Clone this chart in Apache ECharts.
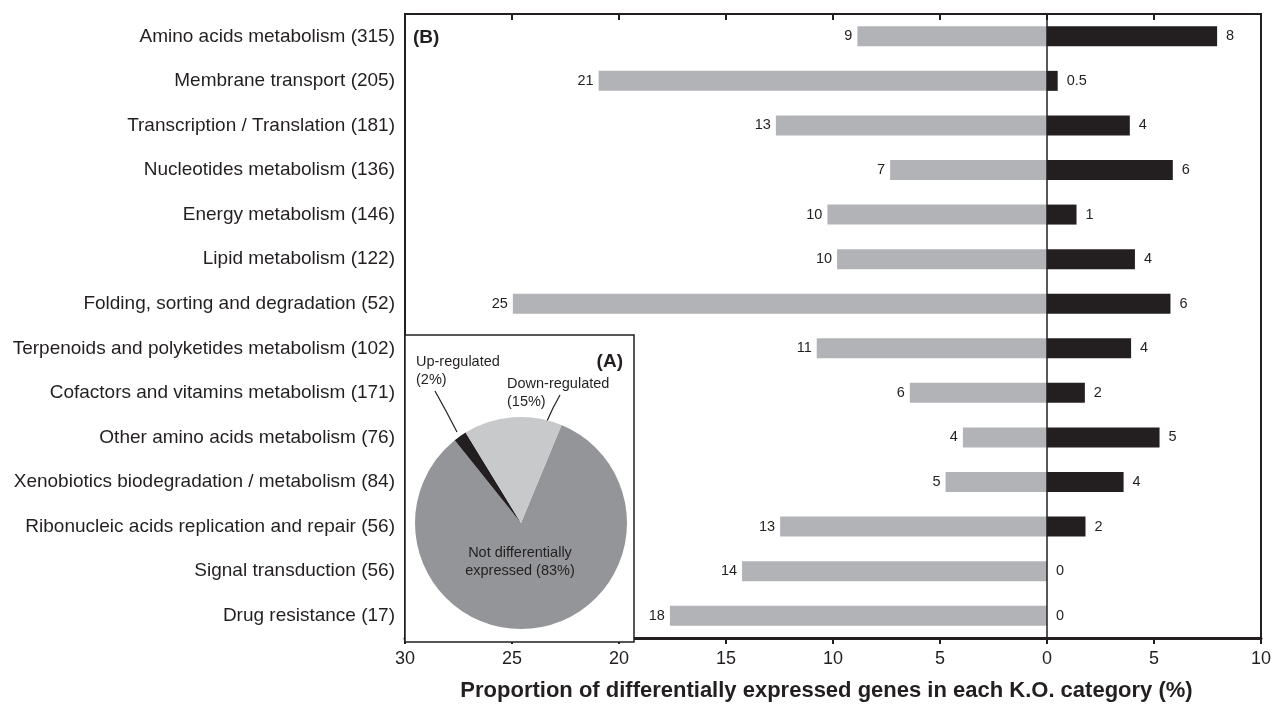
<!DOCTYPE html>
<html><head><meta charset="utf-8">
<script src="https://cdn.jsdelivr.net/npm/echarts@6/dist/echarts.min.js"></script>
<style>html,body{margin:0;padding:0;background:#fff}#c{width:1274px;height:707px}</style>
</head><body><div id="c"></div>
<script>
const categories = [
  'Amino acids metabolism (315)',
  'Membrane transport (205)',
  'Transcription / Translation (181)',
  'Nucleotides metabolism (136)',
  'Energy metabolism (146)',
  'Lipid metabolism (122)',
  'Folding, sorting and degradation (52)',
  'Terpenoids and polyketides metabolism (102)',
  'Cofactors and vitamins metabolism (171)',
  'Other amino acids metabolism (76)',
  'Xenobiotics biodegradation / metabolism (84)',
  'Ribonucleic acids replication and repair (56)',
  'Signal transduction (56)',
  'Drug resistance (17)'
];
// Down-regulated proportion (%), drawn to the left of zero
const downValues = [8.86, 20.95, 12.67, 7.33, 10.26, 9.81, 24.96, 10.76, 6.41, 3.93, 4.74, 12.47, 14.25, 17.62];
const downLabels = ['9', '21', '13', '7', '10', '10', '25', '11', '6', '4', '5', '13', '14', '18'];
// Up-regulated proportion (%), drawn to the right of zero
const upValues = [7.95, 0.5, 3.87, 5.88, 1.38, 4.11, 5.77, 3.93, 1.77, 5.26, 3.58, 1.8, 0, 0];
const upLabels = ['8', '0.5', '4', '6', '1', '4', '6', '4', '2', '5', '4', '2', '0', '0'];
// Inset pie (A)
const pieNames = ['Not differentially\nexpressed (83%)', 'Up-regulated\n(2%)', 'Down-regulated\n(15%)'];
const pieValues = [83, 2, 15];

const INK = '#231f20';
const FONT = '"Liberation Sans", Arial, sans-serif';

const chart = echarts.init(document.getElementById('c'), null, {renderer: 'canvas'});
const pieColors = ['#939598', INK, '#c8c9cb'];

chart.setOption({
  animation: false,
  backgroundColor: '#fff',
  textStyle: {fontFamily: FONT, color: INK},
  grid: {left: 405, right: 12, top: 14, bottom: 65, show: true, borderColor: INK, borderWidth: 2, backgroundColor: 'transparent'},
  xAxis: [{
    type: 'value', position: 'bottom', min: -30, max: 10, interval: 5,
    axisLine: {show: true, lineStyle: {color: INK, width: 3}},
    axisTick: {show: true, length: 6, lineStyle: {color: INK, width: 2}},
    axisLabel: {formatter: v => String(Math.abs(v)), fontSize: 18, color: INK, margin: 12, fontFamily: FONT},
    splitLine: {show: false},
    name: 'Proportion of differentially expressed genes in each K.O. category (%)',
    nameLocation: 'middle', nameGap: 42,
    nameTextStyle: {fontSize: 22, fontWeight: 'bold', color: INK, fontFamily: FONT, padding: [0, 13, 0, 0]}
  }, {
    type: 'value', position: 'top', min: -30, max: 10, interval: 5,
    axisLine: {show: true, lineStyle: {color: INK, width: 2}},
    axisTick: {show: true, inside: true, length: 6, lineStyle: {color: INK, width: 2}},
    axisLabel: {show: false},
    splitLine: {show: false}
  }],
  yAxis: {
    type: 'category', inverse: true, data: categories,
    axisLine: {show: false},
    axisTick: {show: false},
    axisLabel: {fontSize: 19, color: INK, margin: 10, fontFamily: FONT}
  },
  series: [{
    type: 'bar', name: 'Down-regulated', xAxisIndex: 0,
    data: downValues.map(v => -v),
    barWidth: 20, barGap: '-100%',
    itemStyle: {color: '#b2b3b6'},
    label: {show: true, position: 'left', distance: 5, fontSize: 14.5, color: INK, fontFamily: FONT,
      formatter: p => downLabels[p.dataIndex]}
  }, {
    type: 'bar', name: 'Up-regulated', xAxisIndex: 0,
    data: upValues,
    barWidth: 20, barGap: '-100%',
    itemStyle: {color: INK},
    label: {show: true, position: 'right', distance: 9, fontSize: 14.5, color: INK, fontFamily: FONT,
      formatter: p => upLabels[p.dataIndex]},
    markLine: {silent: true, symbol: ['none', 'none'], label: {show: false},
      lineStyle: {color: INK, width: 1.5, type: 'solid'}, data: [{xAxis: 0}]}
  }, {
    type: 'pie', z: 5,
    center: [521, 523], radius: 106,
    startAngle: 67.5, clockwise: true,
    color: pieColors,
    itemStyle: {borderWidth: 0},
    data: pieValues.map((v, i) => ({
      name: pieNames[i], value: v,
      label: i === 0 ? {position: 'inside'} : {position: 'outside'},
      labelLine: {show: i !== 0, lineStyle: {color: INK, width: 1.2}}
    })),
    label: {show: true, formatter: '{b}', fontSize: 14.5, lineHeight: 18, color: INK, fontFamily: FONT},
    labelLayout: function (p) {
      if (p.dataIndex === 0) return {x: 520, y: 562, align: 'center', verticalAlign: 'middle'};
      if (p.dataIndex === 1) return {x: 416, y: 371, align: 'left', verticalAlign: 'middle',
        labelLinePoints: [[457, 432], [446, 411], [435, 391]]};
      return {x: 507, y: 393, align: 'left', verticalAlign: 'middle',
        labelLinePoints: [[547, 421], [553, 408], [560, 395]]};
    },
    emphasis: {disabled: true}
  }],
  graphic: [{
    type: 'rect', z: 1,
    shape: {x: 405, y: 335, width: 229, height: 307},
    style: {fill: '#fff', stroke: INK, lineWidth: 1.5}
  }, {
    type: 'text', z: 10, x: 623, y: 362,
    style: {text: '(A)', font: 'bold 19px "Liberation Sans", Arial, sans-serif', fill: INK, textAlign: 'right', textVerticalAlign: 'middle'}
  }, {
    type: 'text', z: 10, x: 413, y: 38,
    style: {text: '(B)', font: 'bold 19px "Liberation Sans", Arial, sans-serif', fill: INK, textAlign: 'left', textVerticalAlign: 'middle'}
  }]
});
</script>
</body></html>
